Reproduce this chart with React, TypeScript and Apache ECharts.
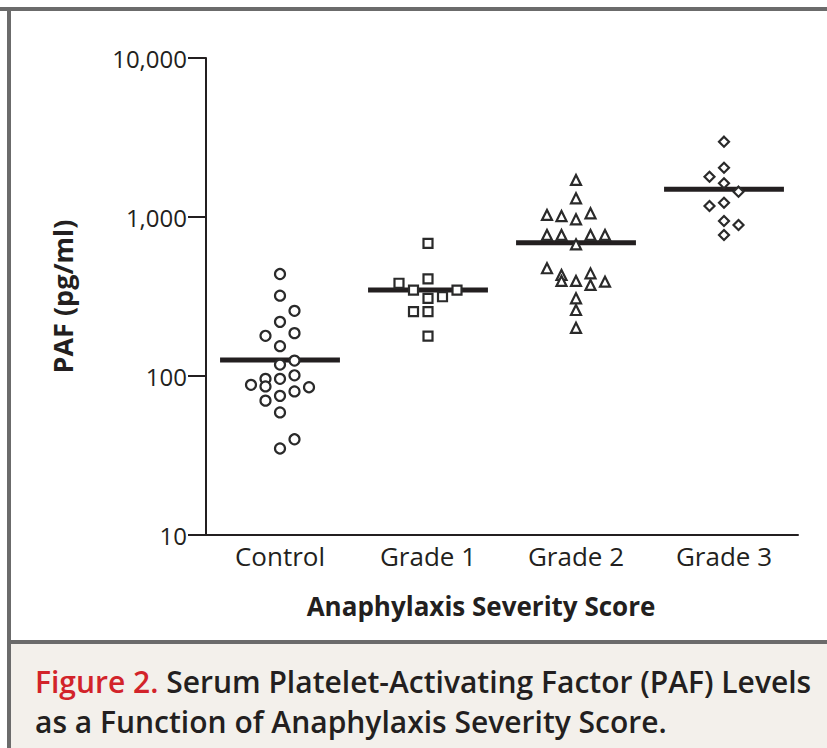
import React, { useEffect, useRef } from "react";
import * as echarts from "echarts";

const categories = ["Control", "Grade 1", "Grade 2", "Grade 3"];
const yTicks = [10, 100, 1000, 10000];

const controlValues = [438, 320, 257, 219, 179, 186, 154, 118, 125, 96, 96, 101, 88, 86, 75, 80, 85, 70, 59, 40, 35];
const controlSlots = [0, 0, 1, 0, -1, 1, 0, 0, 1, -1, 0, 1, -2, -1, 0, 1, 2, -1, 0, 1, 0];

const grade1Values = [683, 408, 383, 347, 308, 315, 347, 254, 254, 178];
const grade1Slots = [0, 0, -2, -1, 0, 1, 2, -1, 0, 0];

const grade2Values = [1710, 1311, 1030, 1014, 1055, 967, 771, 771, 673, 771, 771, 476, 432, 396, 442, 396, 374, 392, 308, 260, 201];
const grade2Slots = [0, 0, -2, -1, 1, 0, -2, -1, 0, 1, 2, -2, -1, 0, 1, -1, 1, 2, 0, 0, 0];

const grade3Values = [2977, 2042, 1792, 1629, 1443, 1172, 1230, 944, 891, 771];
const grade3Slots = [0, 0, -1, 0, 1, -1, 0, 0, 1, 0];

const medians = [126, 347, 689, 1493];

const groupValues = [controlValues, grade1Values, grade2Values, grade3Values];
const groupSlots = [controlSlots, grade1Slots, grade2Slots, grade3Slots];
const groupSymbols = ["circle", "rect", "triangle", "diamond"];
const groupSizes = [10, 9, 10, 10];

const FONT = "'Open Sans', 'Noto Sans', sans-serif";
const INK = "#231f20";
const SLOT = 0.098;
const HALF = 0.405;

export default function App() {
  const ref = useRef<HTMLDivElement>(null);
  useEffect(() => {
    if (!ref.current) return;
    const chart = echarts.init(ref.current, null, { renderer: "svg" });

    const scatterSeries = groupValues.map((vals, gi) => ({
      type: "scatter",
      name: categories[gi],
      xAxisIndex: 1,
      z: 5,
      symbol: groupSymbols[gi],
      symbolSize: groupSizes[gi],
      itemStyle: { color: "#ffffff", borderColor: "#2a2a2a", borderWidth: 2.2, opacity: 1 },
      data: vals.map((v, i) => [gi + 0.5 + groupSlots[gi][i] * SLOT, v]),
    }));

    const medianSeries = medians.map((m, gi) => ({
      type: "line",
      xAxisIndex: 1,
      z: 3,
      symbol: "none",
      lineStyle: { color: INK, width: 5 },
      data: [
        [gi + 0.5 - HALF, m],
        [gi + 0.5 + HALF, m],
      ],
    }));

    chart.setOption({
      animation: false,
      backgroundColor: "#ffffff",
      grid: { left: 206, right: 29, top: 58, bottom: 213, containLabel: false },
      xAxis: [
        {
          type: "category",
          data: categories,
          axisLine: { show: true, lineStyle: { color: INK, width: 2 } },
          axisTick: { show: false },
          axisLabel: { fontFamily: FONT, fontSize: 26, color: INK, margin: 8 },
          name: "Anaphylaxis Severity Score",
          nameLocation: "middle",
          nameGap: 58,
          nameTextStyle: { fontFamily: FONT, fontSize: 26, fontWeight: "bold", color: INK, padding: [0, 42, 0, 0] },
        },
        { type: "value", min: 0, max: 4, show: false },
      ],
      yAxis: {
        type: "log",
        logBase: 10,
        min: yTicks[0],
        max: yTicks[yTicks.length - 1],
        axisLine: { show: true, onZero: false, lineStyle: { color: INK, width: 2 } },
        axisTick: { show: true, length: 18, lineStyle: { color: INK, width: 2 } },
        minorTick: { show: false },
        splitLine: { show: false },
        axisLabel: {
          fontFamily: FONT,
          fontSize: 24,
          color: INK,
          margin: 19,
          formatter: (v: number) => Math.round(v).toLocaleString("en-US"),
        },
        name: "PAF (pg/ml)",
        nameLocation: "middle",
        nameGap: 130,
        nameTextStyle: { fontFamily: FONT, fontSize: 27, fontWeight: "bold", color: INK },
      },
      graphic: [
        { type: "rect", z: -10, shape: { x: 0, y: 7, width: 827, height: 4 }, style: { fill: "#6b6b6b" } },
        { type: "rect", z: -10, shape: { x: 7, y: 7, width: 4, height: 741 }, style: { fill: "#6b6b6b" } },
        { type: "rect", z: -10, shape: { x: 11, y: 644, width: 816, height: 104 }, style: { fill: "#f3f0eb" } },
        { type: "rect", z: -10, shape: { x: 7, y: 640, width: 820, height: 4 }, style: { fill: "#6b6b6b" } },
        {
          type: "text",
          left: 35,
          top: 661,
          style: {
            text: "{r|Figure 2.} Serum Platelet-Activating Factor (PAF) Levels\nas a Function of Anaphylaxis Severity Score.",
            fontFamily: FONT,
            fontSize: 30,
            fontWeight: 600,
            fill: INK,
            lineHeight: 40,
            rich: {
              r: { fontFamily: FONT, fontSize: 30, fontWeight: 600, fill: "#d2232a", lineHeight: 40 },
            },
          },
        },
      ],
      series: [...medianSeries, ...scatterSeries],
    });
    return () => chart.dispose();
  }, []);
  return <div ref={ref} style={{ position: "absolute", left: 0, top: 0, width: 827, height: 748 }} />;
}
